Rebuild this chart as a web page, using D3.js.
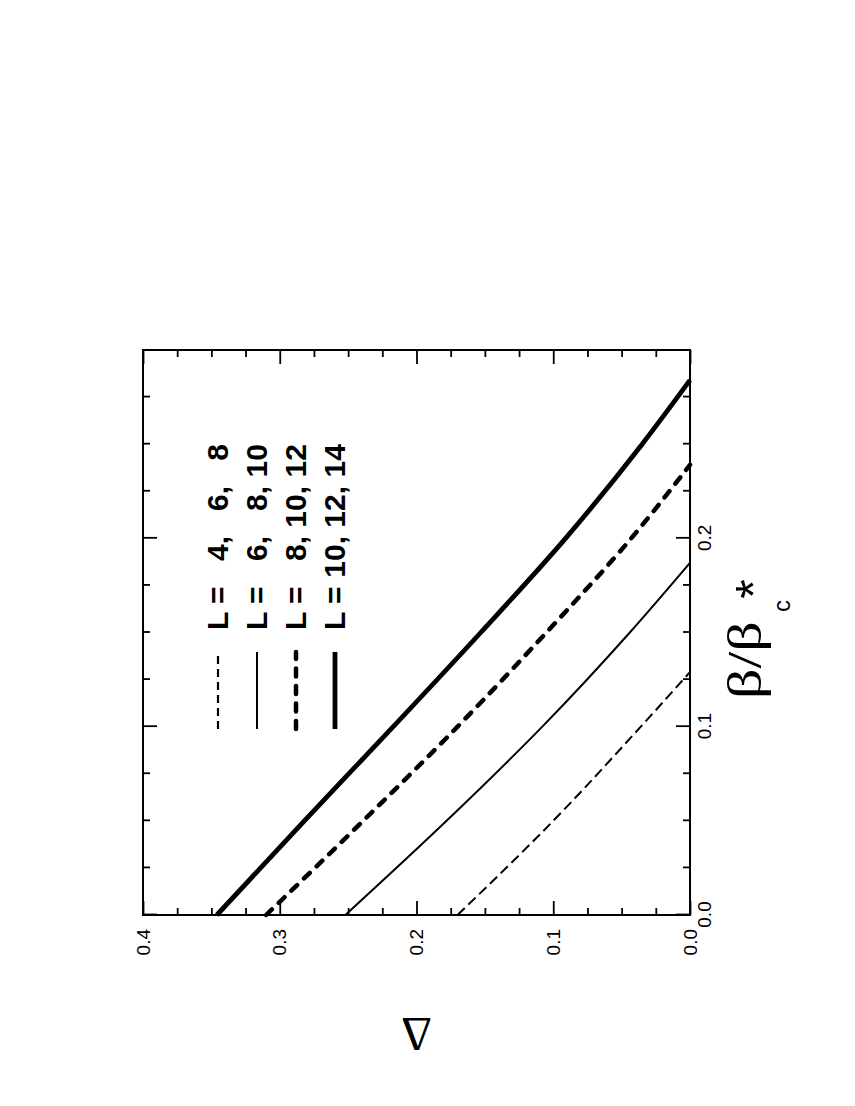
<!DOCTYPE html>
<html>
<head>
<meta charset="utf-8">
<script src="https://cdn.jsdelivr.net/npm/d3@7"></script>
<style>
  body { margin: 0; background: #fff; }
</style>
</head>
<body>
<div id="chart"></div>
<script>
// beta/beta_c* (x) against Delta (y), one curve per set of lattice sizes
const beta4 = [0, 0.05, 0.1, 0.129]
const delta4 = [0.170, 0.100, 0.036, 0]
const beta6 = [0, 0.05, 0.1, 0.15, 0.187]
const delta6 = [0.252, 0.178, 0.108, 0.044, 0]
const beta8 = [0, 0.05, 0.1, 0.15, 0.2, 0.239]
const delta8 = [0.310, 0.239, 0.170, 0.105, 0.043, 0]
const beta10 = [0, 0.05, 0.1, 0.15, 0.2, 0.25, 0.284]
const delta10 = [0.346, 0.282, 0.217, 0.153, 0.091, 0.035, 0]

const legendSizes = [["4,", "6,", "8"], ["6,", "8,", "10"], ["8,", "10,", "12"], ["10,", "12,", "14"]]

const betaMajor = [0, 0.1, 0.2]
const betaMinor = [0.025, 0.05, 0.075, 0.125, 0.15, 0.175, 0.225, 0.25, 0.275]
const deltaMajor = [0, 0.1, 0.2, 0.3, 0.4]
const deltaMinor = [0.025, 0.05, 0.075, 0.125, 0.15, 0.175, 0.225, 0.25, 0.275, 0.325, 0.35, 0.375]

const series = [
  { beta: beta4, delta: delta4, width: 2, dash: "10,5", cap: "butt" },
  { beta: beta6, delta: delta6, width: 2, dash: null, cap: "butt" },
  { beta: beta8, delta: delta8, width: 4.5, dash: "8,9.5", cap: "round" },
  { beta: beta10, delta: delta10, width: 4.8, dash: null, cap: "butt" }
]

const W = 565, H = 547
const sans = "'Liberation Sans', Arial, Helvetica, sans-serif"
const serif = "'Liberation Serif', 'Times New Roman', serif"

const svg = d3.select("#chart").append("svg")
  .attr("width", 855)
  .attr("height", 1106)

svg.append("rect").attr("width", 855).attr("height", 1106).attr("fill", "#fff")

// whole plot is turned a quarter turn, like the page it came from
const g = svg.append("g")
  .attr("transform", "translate(143,915) rotate(-90)")

const x = d3.scaleLinear().domain([0, 0.3]).range([0, W])
const y = d3.scaleLinear().domain([0, 0.4]).range([H, 0])

function ticks(axis, values, size) {
  return axis.tickValues(values).tickSizeInner(-size).tickSizeOuter(0).tickFormat("")
}

// minor + major ticks on all four sides, pointing in
const axes = [
  [d3.axisBottom(x), betaMinor, 7, `translate(0,${H})`],
  [d3.axisBottom(x), betaMajor, 14, `translate(0,${H})`],
  [d3.axisTop(x), betaMinor, 7, null],
  [d3.axisTop(x), betaMajor, 14, null],
  [d3.axisLeft(y), deltaMinor, 7, null],
  [d3.axisLeft(y), deltaMajor, 14, null],
  [d3.axisRight(y), deltaMinor, 7, `translate(${W},0)`],
  [d3.axisRight(y), deltaMajor, 14, `translate(${W},0)`]
]
axes.forEach(([ax, vals, size, tr]) => {
  const a = g.append("g").call(ticks(ax, vals, size))
  if (tr) a.attr("transform", tr)
  a.select(".domain").remove()
  a.selectAll("line").attr("stroke", "#000").attr("stroke-width", 1.8)
})

// tick labels
const xLab = g.append("g").attr("transform", `translate(0,${H})`)
  .call(d3.axisBottom(x).tickValues(betaMajor).tickSize(0).tickPadding(8).tickFormat(d3.format(".1f")))
xLab.select(".domain").remove()
xLab.selectAll("text").attr("font-family", sans).attr("font-size", 19).attr("fill", "#000")

const yLab = g.append("g")
  .call(d3.axisLeft(y).tickValues(deltaMajor).tickSize(0).tickPadding(14).tickFormat(d3.format(".1f")))
yLab.select(".domain").remove()
yLab.selectAll("text").attr("font-family", sans).attr("font-size", 19).attr("fill", "#000")

// frame
g.append("rect")
  .attr("width", W).attr("height", H)
  .attr("fill", "none").attr("stroke", "#000").attr("stroke-width", 2)

// curves
const line = d3.line()
  .x(d => x(d[0]))
  .y(d => y(d[1]))
  .curve(d3.curveMonotoneX)

series.forEach(s => {
  g.append("path")
    .datum(s.beta.map((b, i) => [b, s.delta[i]]))
    .attr("d", line)
    .attr("fill", "none")
    .attr("stroke", "#000")
    .attr("stroke-width", s.width)
    .attr("stroke-dasharray", s.dash)
    .attr("stroke-linecap", s.cap)
})

// legend
const rowY = [75, 114, 153, 192]
const colEnd = [379, 429, 471]
series.forEach((s, i) => {
  g.append("path")
    .attr("d", `M186,${rowY[i]}L263,${rowY[i]}`)
    .attr("fill", "none")
    .attr("stroke", "#000")
    .attr("stroke-width", i === 0 ? 2.2 : s.width)
    .attr("stroke-dasharray", i === 0 ? "8,5" : s.dash)
    .attr("stroke-linecap", s.cap)

  const row = g.append("g").attr("font-family", sans).attr("font-size", 30)
    .attr("font-weight", "bold")
  row.append("text")
    .attr("x", 285).attr("y", rowY[i] + 10)
    .text("L =")
  legendSizes[i].forEach((t, j) => {
    row.append("text")
      .attr("x", colEnd[j]).attr("y", rowY[i] + 10)
      .attr("text-anchor", "end")
      .text(t)
  })
})

// axis titles
g.append("text")
  .attr("transform", `translate(-103,${y(0.2)}) rotate(-90)`)
  .attr("text-anchor", "middle")
  .attr("font-family", serif)
  .attr("font-size", 48)
  .text("Δ")

const bt = g.append("g").attr("fill", "#000")
bt.append("text")
  .attr("transform", `translate(216,618) scale(1.25,1)`)
  .attr("font-family", serif)
  .attr("font-size", 48)
  .text("β/β")
bt.append("text")
  .attr("x", 303).attr("y", 647)
  .attr("font-family", sans)
  .attr("font-size", 24)
  .text("c")
bt.append("text")
  .attr("x", 326).attr("y", 628)
  .attr("text-anchor", "middle")
  .attr("font-family", sans)
  .attr("font-size", 50)
  .text("*")
</script>
</body>
</html>
